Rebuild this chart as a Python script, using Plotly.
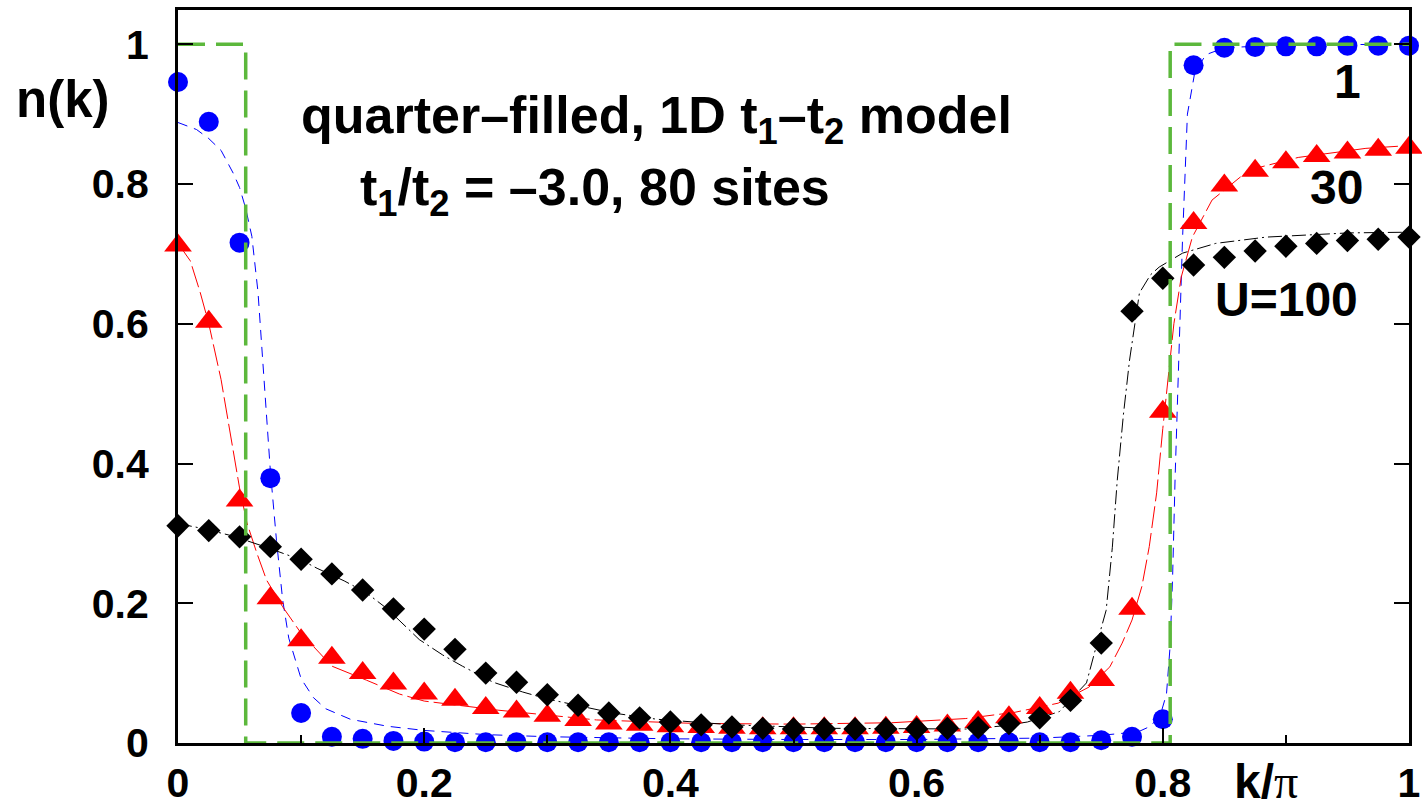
import plotly.graph_objects as go

# ---------------- data ----------------
k_pts = [0.0, 0.025, 0.05, 0.075, 0.1, 0.125, 0.15, 0.175, 0.2, 0.225,
         0.25, 0.275, 0.3, 0.325, 0.35, 0.375, 0.4, 0.425, 0.45, 0.475,
         0.5, 0.525, 0.55, 0.575, 0.6, 0.625, 0.65, 0.675, 0.7, 0.725,
         0.75, 0.775, 0.8, 0.825, 0.85, 0.875, 0.9, 0.925, 0.95, 0.975, 1.0]

n_U1 = [0.946, 0.889, 0.716, 0.379, 0.043, 0.009, 0.006, 0.003, 0.002, 0.001,
        0.001, 0.001, 0.001, 0.001, 0.001, 0.001, 0.001, 0.001, 0.001, 0.001,
        0.001, 0.001, 0.001, 0.001, 0.001, 0.001, 0.001, 0.001, 0.001, 0.001,
        0.004, 0.009, 0.034, 0.970, 0.995, 0.996, 0.997, 0.997, 0.998, 0.998, 0.998]

n_U30 = [0.712, 0.603, 0.347, 0.207, 0.147, 0.122, 0.100, 0.085, 0.071, 0.062,
         0.050, 0.045, 0.039, 0.033, 0.028, 0.026, 0.024, 0.023, 0.022, 0.021,
         0.021, 0.021, 0.021, 0.022, 0.023, 0.025, 0.030, 0.037, 0.050, 0.072,
         0.090, 0.192, 0.474, 0.744, 0.798, 0.819, 0.831, 0.840, 0.845, 0.849, 0.852]

n_U100 = [0.311, 0.304, 0.295, 0.281, 0.263, 0.242, 0.219, 0.192, 0.163, 0.134,
          0.100, 0.087, 0.069, 0.054, 0.043, 0.036, 0.030, 0.026, 0.023, 0.021,
          0.020, 0.020, 0.020, 0.020, 0.020, 0.021, 0.022, 0.028, 0.036, 0.061,
          0.143, 0.618, 0.665, 0.684, 0.695, 0.704, 0.711, 0.715, 0.719, 0.721, 0.724]

# fitted curves
fit1_x = [0.0, 0.015, 0.025, 0.035, 0.045, 0.05, 0.055, 0.06, 0.065, 0.07,
          0.075, 0.08, 0.085, 0.09, 0.095, 0.1, 0.11, 0.12, 0.14, 0.17,
          0.2, 0.25, 0.3, 0.4, 0.5, 0.6, 0.7, 0.75, 0.78, 0.79,
          0.798, 0.803, 0.806, 0.808, 0.81, 0.813, 0.816, 0.82, 0.826, 0.835,
          0.85, 0.9, 1.0]
fit1_y = [0.888, 0.878, 0.865, 0.848, 0.815, 0.795, 0.765, 0.725, 0.645, 0.52,
          0.39, 0.29, 0.205, 0.15, 0.12, 0.092, 0.065, 0.049, 0.034, 0.024,
          0.018, 0.012, 0.009, 0.006, 0.005, 0.005, 0.007, 0.011, 0.016, 0.024,
          0.04, 0.07, 0.14, 0.24, 0.38, 0.55, 0.72, 0.90, 0.96, 0.985,
          0.995, 0.999, 1.0]

fit30_x = [0.0, 0.01, 0.018, 0.025, 0.035, 0.045, 0.05, 0.056, 0.064, 0.072,
           0.085, 0.1, 0.125, 0.153, 0.18, 0.2, 0.26, 0.34, 0.42, 0.5,
           0.58, 0.64, 0.68, 0.715, 0.74, 0.757, 0.767, 0.775, 0.783, 0.789,
           0.795, 0.8, 0.805, 0.809, 0.815, 0.824, 0.84, 0.87, 0.91, 0.965, 1.0]
fit30_y = [0.715, 0.69, 0.645, 0.6, 0.52, 0.42, 0.365, 0.315, 0.272, 0.233,
           0.195, 0.157, 0.11, 0.09, 0.07, 0.06, 0.047, 0.033, 0.028, 0.027,
           0.029, 0.035, 0.044, 0.057, 0.08, 0.109, 0.143, 0.176, 0.224, 0.281,
           0.358, 0.45, 0.53, 0.6, 0.667, 0.724, 0.777, 0.82, 0.838, 0.851, 0.855]

fit100_x = [0.0, 0.02, 0.045, 0.072, 0.1, 0.113, 0.135, 0.153, 0.17, 0.186,
            0.196, 0.215, 0.231, 0.256, 0.28, 0.3, 0.324, 0.353, 0.389, 0.424,
            0.45, 0.532, 0.586, 0.64, 0.667, 0.69, 0.716, 0.738, 0.748, 0.754,
            0.759, 0.763, 0.768, 0.773, 0.781, 0.79, 0.797, 0.816, 0.843, 0.884,
            0.951, 1.0]
fit100_y = [0.314, 0.307, 0.296, 0.28, 0.262, 0.25, 0.232, 0.215, 0.192, 0.164,
            0.148, 0.126, 0.11, 0.087, 0.073, 0.063, 0.054, 0.043, 0.034, 0.029,
            0.026, 0.021, 0.02, 0.02, 0.024, 0.03, 0.045, 0.086, 0.152, 0.19,
            0.28, 0.376, 0.47, 0.548, 0.644, 0.67, 0.681, 0.701, 0.715, 0.724,
            0.73, 0.731]

# U=0 step function (free fermions)
step_x = [0.0, 0.055, 0.055, 0.806, 0.806, 1.0]
step_y = [1.0, 1.0, 0.0, 0.0, 1.0, 1.0]

x_tickvals = [0, 0.2, 0.4, 0.6, 0.8, 1.0]
x_ticktext = ["0", "0.2", "0.4", "0.6", "0.8", "1"]
x_minor = [0.1, 0.3, 0.5, 0.7, 0.9]
y_tickvals = [0, 0.2, 0.4, 0.6, 0.8, 1.0]
y_ticktext = ["0", "0.2", "0.4", "0.6", "0.8", "1"]

FONT = "Liberation Sans, Arial, Helvetica, sans-serif"
BLUE = "#0000ff"
RED = "#ff0000"
BLACK = "#000000"
GREEN = "#5cb83c"

W, H = 1422, 809
L, R, T, B = 178, 13, 10, 66
PW, PH = W - L - R, H - T - B


def pos(px, py):
    """page pixel -> paper coords of the plot area"""
    return (px - L) / PW, (T + PH - py) / PH


fig = go.Figure()

# fit curves
fig.add_trace(go.Scatter(x=fit1_x, y=fit1_y, mode="lines",
                         line=dict(color=BLUE, width=1, dash="10px,7px")))
fig.add_trace(go.Scatter(x=fit30_x, y=fit30_y, mode="lines",
                         line=dict(color=RED, width=1, dash="22px,5px")))
fig.add_trace(go.Scatter(x=fit100_x, y=fit100_y, mode="lines",
                         line=dict(color=BLACK, width=1, dash="14px,4px,2px,4px")))

# markers
fig.add_trace(go.Scatter(x=k_pts, y=n_U1, mode="markers", cliponaxis=False,
                         marker=dict(symbol="circle", size=20, color=BLUE,
                                     line=dict(width=0))))
fig.add_trace(go.Scatter(x=k_pts, y=n_U30, mode="markers", cliponaxis=False,
                         marker=dict(symbol="triangle-up", size=24, color=RED,
                                     line=dict(width=0))))
fig.add_trace(go.Scatter(x=k_pts, y=n_U100, mode="markers", cliponaxis=False,
                         marker=dict(symbol="diamond", size=18, color=BLACK,
                                     line=dict(width=0))))

# step line
fig.add_trace(go.Scatter(x=step_x, y=step_y, mode="lines",
                         line=dict(color=GREEN, width=3.5, dash="27px,11px")))

annots = [
    dict(x=62, y=99, text="n(k)", size=51),
    dict(x=656, y=119, text="quarter\u2013filled, 1D t<sub>1</sub>\u2013t<sub>2</sub> model", size=52),
    dict(x=595, y=191, text="t<sub>1</sub>/t<sub>2</sub> = \u20133.0, 80 sites", size=52),
    dict(x=1363, y=82, text="1", size=48, xanchor="right"),
    dict(x=1365, y=187, text="30", size=48, xanchor="right"),
    dict(x=1360, y=299, text="U=100", size=48, xanchor="right"),
]
for a in annots:
    xp, yp = pos(a["x"], a["y"])
    fig.add_annotation(
        x=xp, y=yp, xref="paper", yref="paper",
        text=a["text"], showarrow=False,
        xanchor=a.get("xanchor", "center"), yanchor="middle",
        font=dict(family=FONT, size=a["size"], color="black", weight="bold"))

xp, yp = pos(1266, 781)
fig.add_annotation(
    x=xp, y=yp, xref="paper", yref="paper", showarrow=False,
    xanchor="center", yanchor="middle",
    text="k/<span style='font-family:\"Liberation Serif\", \"Times New Roman\", serif; font-weight:normal'>\u03c0</span>",
    font=dict(family=FONT, size=48, color="black", weight="bold"))

fig.update_xaxes(
    range=[0, 1.0], showgrid=False, zeroline=False,
    showline=True, linecolor="black", linewidth=3, mirror=True,
    ticks="inside", ticklen=15, tickwidth=2, tickcolor="black",
    tickvals=x_tickvals, ticktext=x_ticktext, ticklabelstandoff=2,
    minor=dict(tickvals=x_minor, ticks="inside", ticklen=8, tickwidth=2,
               tickcolor="black", showgrid=False),
    tickfont=dict(family=FONT, size=41, color="black", weight="bold"),
)
fig.update_yaxes(
    range=[0, 1.049], showgrid=False, zeroline=False,
    showline=True, linecolor="black", linewidth=3, mirror="ticks",
    ticks="inside", ticklen=15, tickwidth=2, tickcolor="black",
    tickvals=y_tickvals, ticktext=y_ticktext, ticklabelstandoff=18,
    tickfont=dict(family=FONT, size=41, color="black", weight="bold"),
)

fig.update_layout(
    width=W, height=H, showlegend=False,
    paper_bgcolor="white", plot_bgcolor="white",
    margin=dict(l=L, r=R, t=T, b=B, autoexpand=False),
)

fig.write_html(
    "out.html",
    config={"displayModeBar": False},
    post_script="document.body.style.margin='0';document.body.style.overflow='hidden';",
)
